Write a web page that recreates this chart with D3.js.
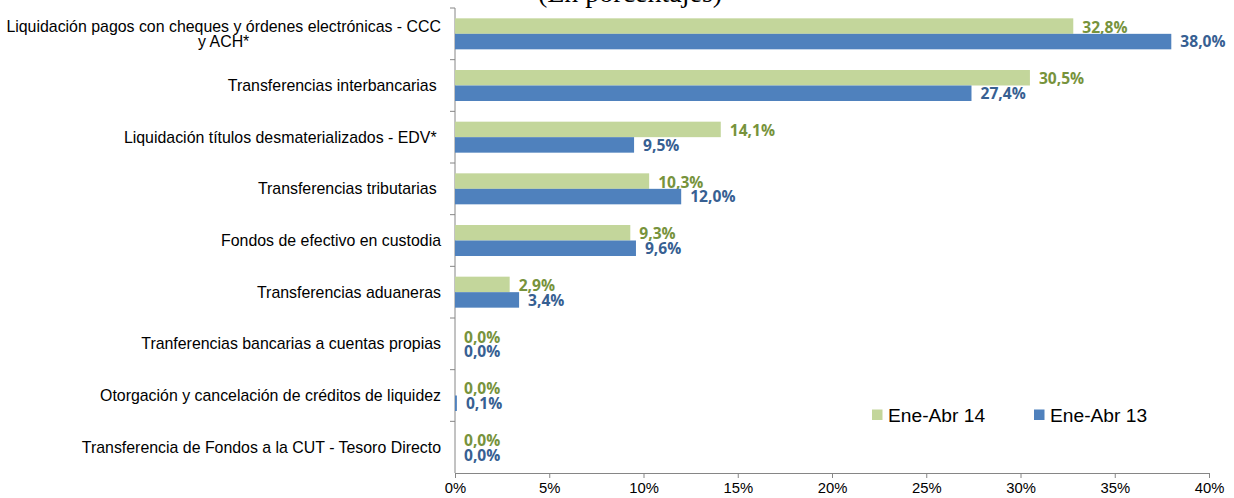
<!DOCTYPE html>
<html>
<head>
<meta charset="utf-8">
<script src="https://cdn.jsdelivr.net/npm/d3@7"></script>
<style>
	body { margin: 0; background: #ffffff; }
	svg { display: block; }
	.axis path, .axis line { stroke: #868686; }
</style>
</head>
<body>
<div id="chart"></div>
<script>

// categorias (de arriba hacia abajo)
var categories = [
	["Liquidación pagos con cheques y órdenes electrónicas - CCC", "y ACH*"],
	["Transferencias interbancarias "],
	["Liquidación títulos desmaterializados - EDV* "],
	["Transferencias tributarias "],
	["Fondos de efectivo en custodia"],
	["Transferencias aduaneras"],
	["Tranferencias bancarias a cuentas propias"],
	["Otorgación y cancelación de créditos de liquidez"],
	["Transferencia de Fondos a la CUT - Tesoro Directo"]
]

var series_names = ["Ene-Abr 14", "Ene-Abr 13"]
var vals_2014 = [32.8, 30.5, 14.1, 10.3, 9.3, 2.9, 0.0, 0.0, 0.0]
var vals_2013 = [38.0, 27.4, 9.5, 12.0, 9.6, 3.4, 0.0, 0.1, 0.0]
var x_ticks = [0, 5, 10, 15, 20, 25, 30, 35, 40]
var title_text = "(En porcentajes)"

var bar_colors = ["#c3d69b", "#4f81bd"]
var lbl_colors = ["#77933c", "#376092"]

var width = 1234, height = 498
var margin = {top: 8, left: 455, right: 25, bottom: 25}

var svg = d3.select("#chart")
	.append("svg")
	.attr("width", width)
	.attr("height", height)

var cat_ids = categories.map((d, i) => "c" + i)

var x_scale = d3.scaleLinear()
	.domain([0, 40])
	.range([margin.left, width - margin.right])

var y_scale = d3.scaleBand()
	.domain(cat_ids)
	.range([margin.top, height - margin.bottom])
	.padding(0)

var y_sub = d3.scaleBand()
	.domain(series_names)
	.range([0, y_scale.bandwidth()])
	.paddingInner(0)
	.paddingOuter(0.667)

var loc = d3.formatLocale({decimal: ",", thousands: ".", grouping: [3], currency: ["", ""]})
var fmt = loc.format(".1f")

// titulo (cortado arriba, como en el original)
svg.append("text")
	.attr("x", 630)
	.attr("y", 2)
	.attr("text-anchor", "middle")
	.style("font-family", "'Liberation Serif', 'Times New Roman', serif")
	.style("font-size", "28px")
	.text(title_text)

// eje X
var xaxis = svg.append("g")
	.attr("class", "axis")
	.attr("transform", "translate(0," + (height - margin.bottom) + ")")
	.call(d3.axisBottom(x_scale).tickValues(x_ticks).tickSize(5).tickSizeOuter(0).tickFormat(d => d + "%"))

xaxis.selectAll("text")
	.attr("dy", "0.71em")
	.attr("y", 9)
	.style("font-family", "'Liberation Sans', Arial, sans-serif")
	.style("font-size", "14.8px")
	.style("fill", "#000")

// eje Y : linea + marcas entre categorias
var yaxis = svg.append("g").attr("class", "axis")
yaxis.append("line")
	.attr("x1", margin.left).attr("x2", margin.left)
	.attr("y1", margin.top).attr("y2", height - margin.bottom)
yaxis.selectAll(".tk")
	.data(cat_ids)
	.enter()
	.append("line")
	.attr("x1", margin.left - 5).attr("x2", margin.left)
	.attr("y1", d => y_scale(d)).attr("y2", d => y_scale(d))

// etiquetas de categoria
var labels = svg.append("g")
	.selectAll("text")
	.data(categories)
	.enter()
	.append("text")
	.attr("text-anchor", "end")
	.attr("x", 441)
	.attr("y", (d, i) => y_scale(cat_ids[i]) + y_scale.bandwidth() / 2 - (d.length - 1) * 7.8)
	.attr("dy", "0.35em")
	.style("font-family", "'Liberation Sans', Arial, sans-serif")
	.style("font-size", "15.9px")
	.style("white-space", "pre")
	.style("fill", "#000")
	.text(d => d[0])

// segunda linea centrada bajo la primera
labels.each(function (d, i) {
	if (d.length < 2) return
	var w = this.getComputedTextLength()
	svg.append("text")
		.attr("text-anchor", "middle")
		.attr("x", 441 - w / 2)
		.attr("y", y_scale(cat_ids[i]) + y_scale.bandwidth() / 2 + 7.8)
		.attr("dy", "0.35em")
		.style("font-family", "'Liberation Sans', Arial, sans-serif")
		.style("font-size", "15.9px")
		.style("fill", "#000")
		.text(d[1])
})

// barras + etiquetas de valor
var all_vals = [vals_2014, vals_2013]
series_names.forEach(function (s, k) {
	var g = svg.append("g")
	g.selectAll("rect")
		.data(all_vals[k])
		.enter()
		.append("rect")
		.attr("x", x_scale(0))
		.attr("y", (d, i) => y_scale(cat_ids[i]) + y_sub(s))
		.attr("width", d => x_scale(d) - x_scale(0))
		.attr("height", y_sub.bandwidth())
		.style("fill", bar_colors[k])

	g.selectAll("text")
		.data(all_vals[k])
		.enter()
		.append("text")
		.attr("x", d => x_scale(d) + 9)
		.attr("y", (d, i) => y_scale(cat_ids[i]) + y_sub(s) + y_sub.bandwidth() / 2 + (k == 0 ? 1 : 0))
		.attr("dy", "0.36em")
		.style("font-family", "'Open Sans', sans-serif")
		.style("font-weight", "700")
		.style("font-size", "15.6px")
		.style("fill", lbl_colors[k])
		.text(d => fmt(d) + "%")
})

// leyenda
var leg_x = [872, 1034]
var leg = svg.append("g")
	.selectAll("g")
	.data(series_names)
	.enter()
	.append("g")
	.attr("transform", (d, i) => "translate(" + leg_x[i] + ",409.5)")

leg.append("rect")
	.attr("width", 10.5)
	.attr("height", 10.5)
	.style("fill", (d, i) => bar_colors[i])

leg.append("text")
	.attr("x", 16)
	.attr("y", 5.5)
	.attr("dy", "0.35em")
	.style("font-family", "'Liberation Sans', Arial, sans-serif")
	.style("font-size", "19.2px")
	.style("fill", "#000")
	.text(d => d)

</script>
</body>
</html>
